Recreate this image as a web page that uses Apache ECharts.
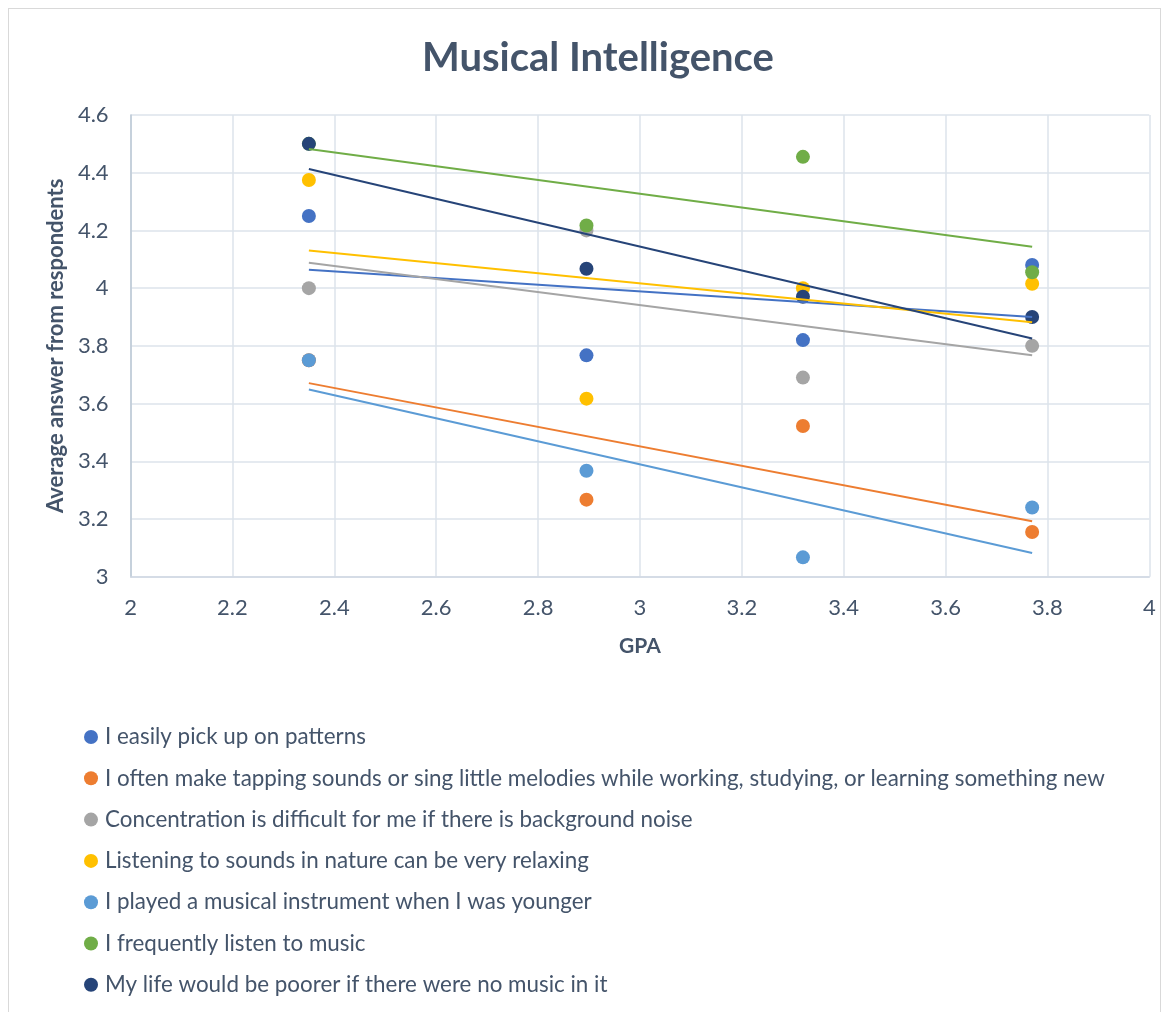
<!DOCTYPE html>
<html>
<head>
<meta charset="utf-8">
<style>
  html, body { margin: 0; padding: 0; background: #fff; }
  #frame { position: absolute; left: 8px; top: 8px; width: 1153px; height: 1010px; border: 1px solid #D9D9D9; border-bottom: none; box-sizing: border-box; }
  #chart { position: absolute; left: 0; top: 0; width: 1169px; height: 1012px; }
</style>
<script src="https://cdn.jsdelivr.net/npm/echarts@6/dist/echarts.min.js"></script>
</head>
<body>
<div id="frame"></div>
<div id="chart"></div>
<script>
// GPA groups (x positions shared by every question)
const gpa = [2.35, 2.895, 3.32, 3.77];

// Average answers per question, one value per GPA group
const patterns    = [4.25, 3.767, 3.82, 4.08];
const tapping     = [3.75, 3.267, 3.522, 3.155];
const noise       = [4.0, 4.2, 3.69, 3.8];
const nature      = [4.375, 3.617, 4.0, 4.015];
const instrument  = [3.75, 3.367, 3.067, 3.24];
const listening   = [4.5, 4.217, 4.455, 4.055];
const poorer      = [4.5, 4.067, 3.97, 3.9];

const names = [
  'I easily pick up on patterns',
  'I often make tapping sounds or sing little melodies while working, studying, or learning something new',
  'Concentration is difficult for me if there is background noise',
  'Listening to sounds in nature can be very relaxing',
  'I played a musical instrument when I was younger',
  'I frequently listen to music',
  'My life would be poorer if there were no music in it'
];
const values = [patterns, tapping, noise, nature, instrument, listening, poorer];
const colors = ['#4472C4', '#ED7D31', '#A5A5A5', '#FFC000', '#5B9BD5', '#70AD47', '#264478'];

// Least-squares linear trend over the GPA groups
function trend(ys) {
  const n = gpa.length;
  const mx = gpa.reduce((a, b) => a + b, 0) / n;
  const my = ys.reduce((a, b) => a + b, 0) / n;
  let sxy = 0, sxx = 0;
  for (let i = 0; i < n; i++) { sxy += (gpa[i] - mx) * (ys[i] - my); sxx += (gpa[i] - mx) ** 2; }
  const k = sxy / sxx, b = my - k * mx;
  const x0 = gpa[0], x1 = gpa[n - 1];
  return [[x0, k * x0 + b], [x1, k * x1 + b]];
}

const textColor = '#44546A';
const font = 'Lato';

const series = [];
values.forEach((ys, i) => {
  series.push({
    name: names[i], type: 'scatter', symbol: 'circle', symbolSize: 14,
    itemStyle: { color: colors[i], opacity: 1 }, z: 2,
    data: ys.map((y, j) => [gpa[j], y])
  });
});
values.forEach((ys, i) => {
  series.push({
    type: 'line', data: trend(ys), symbol: 'none', silent: true, z: 3,
    lineStyle: { color: colors[i], width: 2 }
  });
});

const chart = echarts.init(document.getElementById('chart'));
chart.setOption({
  animation: false,
  textStyle: { fontFamily: font },
  title: {
    text: 'Musical Intelligence', left: 417, top: 33,
    textStyle: { fontFamily: font, fontSize: 40, fontWeight: 'bold', color: textColor }
  },
  grid: { left: 130.6, right: 19.7, top: 115, bottom: 435.3, containLabel: false },
  xAxis: {
    type: 'value', min: 2, max: 4, interval: 0.2,
    name: 'GPA', nameLocation: 'middle', nameGap: 59,
    nameTextStyle: { fontFamily: font, fontSize: 21, fontWeight: 'bold', color: textColor },
    axisLine: { show: true, lineStyle: { color: '#D0D8E2', width: 1.5 } },
    axisTick: { show: false },
    axisLabel: { fontFamily: font, fontSize: 22, color: textColor, margin: 20,
      formatter: v => String(Math.round(v * 10) / 10) },
    splitLine: { show: true, lineStyle: { color: '#DDE3EB', width: 1.5 } }
  },
  yAxis: {
    type: 'value', min: 3, max: 4.6, interval: 0.2,
    name: 'Average answer from respondents', nameLocation: 'middle', nameGap: 64, nameRotate: 90,
    nameTextStyle: { fontFamily: font, fontSize: 22, fontWeight: 'bold', color: textColor },
    axisLine: { show: true, lineStyle: { color: '#BCC8D6', width: 1.5 } },
    axisTick: { show: false },
    axisLabel: { fontFamily: font, fontSize: 22, color: textColor, margin: 22,
      formatter: v => String(Math.round(v * 10) / 10) },
    splitLine: { show: true, lineStyle: { color: '#DDE3EB', width: 1.5 } }
  },
  legend: {
    orient: 'vertical', left: 79, top: 721,
    data: names, icon: 'circle', itemWidth: 14, itemHeight: 14, itemGap: 19.3,
    textStyle: { fontFamily: font, fontSize: 22.4, color: textColor, lineHeight: 22, padding: [0, 0, 0, 2] }
  },
  series: series
});
</script>
</body>
</html>
